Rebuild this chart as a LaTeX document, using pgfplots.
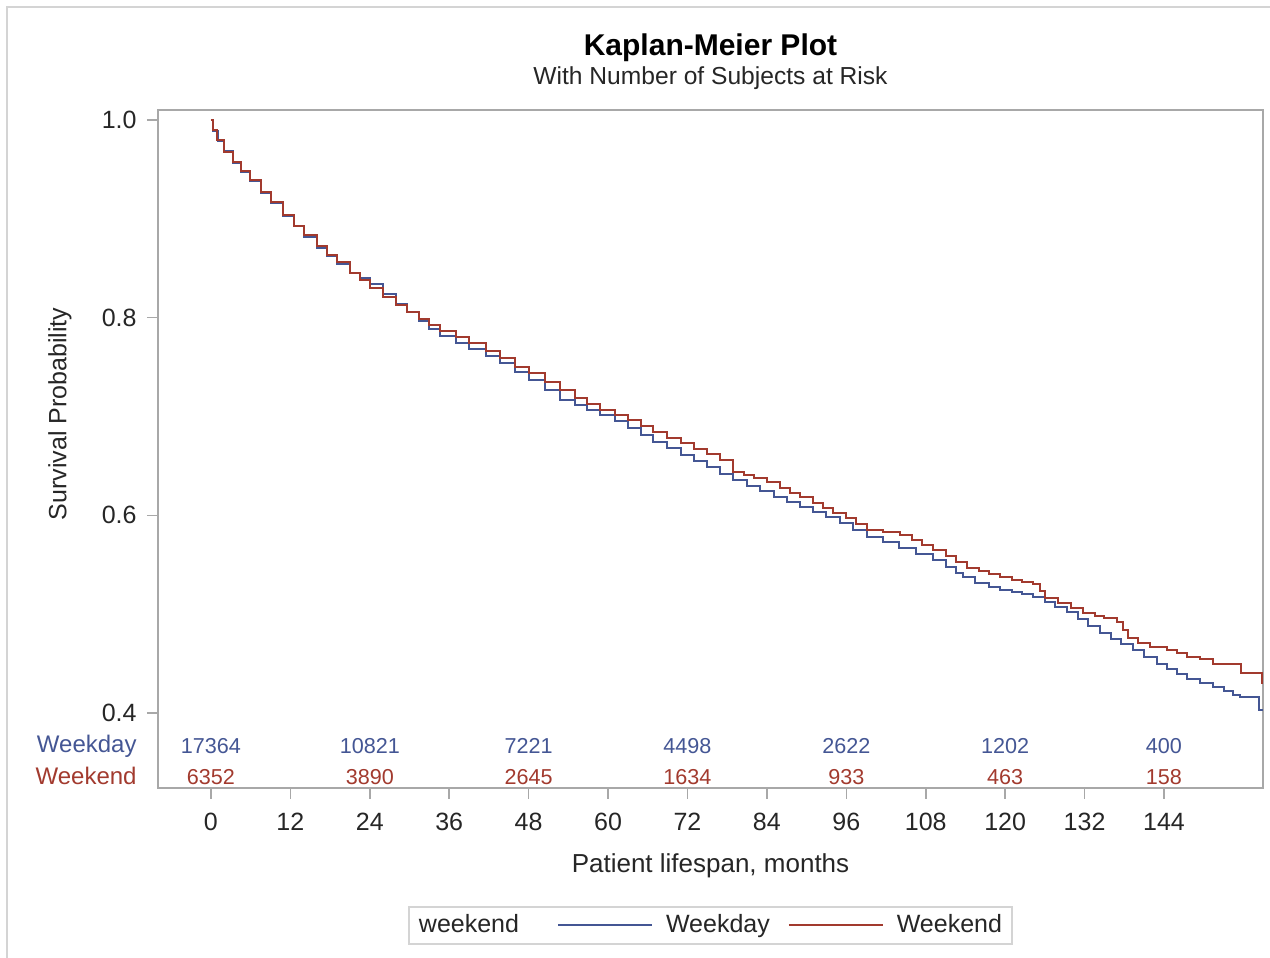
\documentclass[border=0pt]{standalone}
\usepackage{fontspec}
\setmainfont{Liberation Sans}
\usepackage{pgfplots}
\pgfplotsset{compat=1.18}
\definecolor{kmblue}{HTML}{445694}
\definecolor{kmred}{HTML}{A23A2E}
\definecolor{axgray}{HTML}{A8A8A8}
\definecolor{framegray}{HTML}{D4D4D4}

\pgfplotstableread{
t y
0 1.000
0.3 0.989
1 0.979
2 0.969
3.3 0.956
4.5 0.947
5.9 0.938
7.5 0.926
9 0.916
10.9 0.903
12.5 0.893
14 0.882
16 0.870
17.5 0.862
19 0.854
21 0.845
22.5 0.840
24 0.834
26 0.824
28 0.814
29.6 0.806
31.5 0.797
33 0.789
34.6 0.781
37 0.774
39 0.768
41.5 0.761
43.7 0.754
46 0.745
48 0.737
50.5 0.727
52.7 0.717
55 0.712
56.8 0.707
58.8 0.702
61 0.695
63 0.688
65 0.681
66.8 0.674
68.9 0.668
71 0.661
73 0.655
75 0.649
76.9 0.642
78.9 0.636
81 0.630
83 0.625
85 0.619
87 0.613
89 0.608
91 0.603
93 0.598
95 0.592
97 0.585
99.1 0.578
101.5 0.573
104 0.567
106.5 0.561
109.1 0.555
111 0.548
112.5 0.542
113.6 0.538
115.5 0.532
117.5 0.527
119.2 0.524
121 0.522
122.5 0.520
124.2 0.517
126 0.512
127.5 0.507
129.3 0.502
131 0.495
132.5 0.488
134.3 0.481
136 0.475
137.5 0.470
139.3 0.464
141 0.457
143 0.450
144.5 0.444
146 0.439
147.5 0.434
149.5 0.430
151.4 0.426
153 0.422
154.4 0.418
155.5 0.416
158.3 0.403
158.96 0.403
}\weekday

\pgfplotstableread{
t y
0 1.000
0.3 0.990
0.9 0.980
2 0.968
3.3 0.957
4.5 0.948
5.9 0.939
7.5 0.927
9 0.917
10.9 0.904
12.5 0.893
14 0.884
16 0.872
17.5 0.863
19 0.856
21 0.845
22.5 0.838
24 0.830
26 0.821
28 0.813
29.6 0.806
31.5 0.799
33 0.793
34.6 0.786
37 0.780
39 0.774
41.5 0.766
43.7 0.759
46 0.750
48 0.744
50.5 0.735
52.7 0.727
55 0.719
56.8 0.713
58.8 0.707
61 0.701
63 0.696
65 0.690
66.8 0.684
68.9 0.678
71 0.673
73 0.667
75 0.662
76.9 0.656
78.9 0.644
80.5 0.641
82 0.638
84 0.634
86 0.628
87.5 0.623
89 0.619
91 0.612
92.5 0.607
94 0.602
96 0.597
97.5 0.591
99.1 0.585
101.5 0.583
104.1 0.580
106 0.575
107.5 0.570
109.1 0.565
111 0.559
112.5 0.553
114.2 0.547
116 0.544
117.5 0.541
119.2 0.538
121 0.535
122.5 0.533
124.2 0.530
125.3 0.523
126 0.516
128 0.511
130 0.506
131.8 0.501
133.5 0.498
135 0.496
136.9 0.492
137.8 0.484
138.6 0.476
140 0.471
141.9 0.467
144.5 0.464
146 0.461
147.5 0.457
149.5 0.455
151.4 0.450
155.6 0.440
158.8 0.430
158.96 0.430
}\weekend

\begin{document}
\begin{tikzpicture}
\begin{axis}[
  scale only axis, width=552.5pt, height=339pt,
  at={(0,0)}, anchor=south west,
  xmin=-8, xmax=158.96, ymin=0.3241, ymax=1.0101,
  xtick={0,12,...,144}, ytick={0.4,0.6,0.8,1.0},
  tick pos=left, tick align=outside,
  major tick length=5.5pt,
  axis line style={axgray, line width=0.8pt},
  every tick/.style={axgray, line width=0.8pt},
  /pgf/number format/assume math mode=true,
  yticklabel style={/pgf/number format/fixed, /pgf/number format/fixed zerofill, /pgf/number format/precision=1, xshift=-1.7pt},
  ticklabel style={font=\fontsize{12.5}{14}\selectfont, text=black!85},
  xticklabel style={yshift=-3.5pt},
  xlabel={Patient lifespan, months},
  ylabel={Survival Probability},
  xlabel style={at={(axis description cs:0.5,-0.115)}, anchor=center, font=\fontsize{13}{15}\selectfont, text=black!85},
  ylabel style={at={(axis description cs:-0.0887,0.5516)}, anchor=center, font=\fontsize{12.5}{14}\selectfont, text=black!85},
  legend columns=-1,
  legend style={at={(0.5,-0.174)}, anchor=north, draw=framegray, line width=0.8pt,
    font=\fontsize{12.5}{14}\selectfont, text=black!85,
    /tikz/every odd column/.append style={column sep=4.5pt},
    /tikz/every even column/.append style={column sep=7pt},
    inner xsep=3pt, inner ysep=2pt},
  legend image code/.code={\draw[#1] (0pt,0pt) -- (47pt,0pt);},
]
\addlegendimage{empty legend}
\addlegendentry{\hspace*{-4.5pt}weekend\hspace*{10pt}\null}
\addplot[const plot, kmblue, line width=1pt] table[x=t,y=y] {\weekday};
\addlegendentry{Weekday}
\addplot[const plot, kmred, line width=1pt] table[x=t,y=y] {\weekend};
\addlegendentry{Weekend}

\foreach \tk/\nd/\ne in {0/17364/6352, 24/10821/3890, 48/7221/2645, 72/4498/1634, 96/2622/933, 120/1202/463, 144/400/158}{
  \edef\tmp{\noexpand\node[kmblue, font=\noexpand\fontsize{10.8}{12}\noexpand\selectfont] at (axis cs:\tk,0.3666) {\nd};
    \noexpand\node[kmred, font=\noexpand\fontsize{10.8}{12}\noexpand\selectfont] at (axis cs:\tk,0.3356) {\ne};}
  \tmp
}
\end{axis}
\node[kmblue, anchor=east, inner sep=0pt, font=\fontsize{12}{14}\selectfont] at (-10.5pt,21pt) {Weekday};
\node[kmred, anchor=east, inner sep=0pt, font=\fontsize{12}{14}\selectfont] at (-10.5pt,6pt) {Weekend};
\node[font=\fontsize{15}{17}\selectfont\bfseries] at (276.25pt,370pt) {Kaplan-Meier Plot};
\node[font=\fontsize{12.3}{14}\selectfont, text=black!85] at (276.25pt,355pt) {With Number of Subjects at Risk};
\draw[framegray, line width=1pt] (-75.5pt,-85pt) -- (-75.5pt,390.5pt) -- (556pt,390.5pt);
\pgfresetboundingbox
\useasboundingbox (-79pt,-85pt) rectangle (556pt,394pt);
\end{tikzpicture}
\end{document}
